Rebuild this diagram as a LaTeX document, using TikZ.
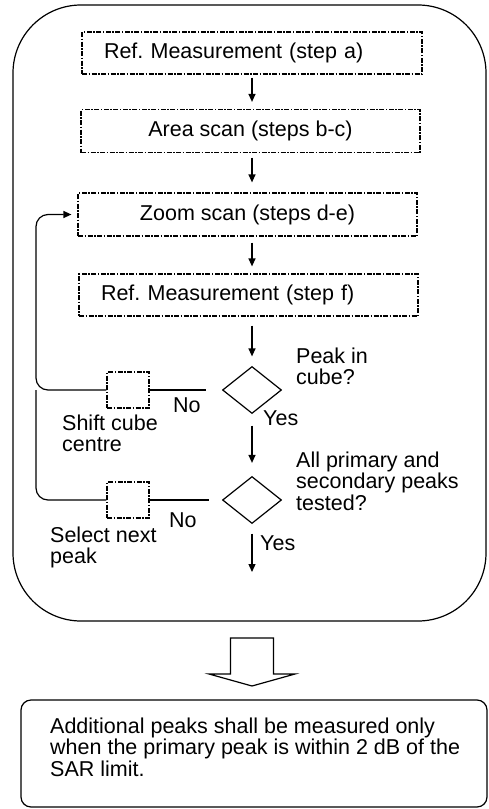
\documentclass[tikz,border=0pt]{standalone}
\usepackage{fontspec}
\setmainfont{Liberation Sans}
\usetikzlibrary{shapes.geometric,arrows.meta,calc}
\newcommand\mtext[1]{\vtop{\halign{##\hfil\cr#1\crcr}}}
\frenchspacing
\begin{document}
\begin{tikzpicture}[x=1pt,y=-1pt,
  font=\fontsize{21.5}{21.5}\selectfont\frenchspacing,
  every node/.style={text=black},
  ln/.style={line width=1.2pt},
  dd/.style={dash pattern=on 5pt off 1.5pt on 1.5pt off 1.5pt},
  stepbox/.style={draw, ln, dd, minimum width=339pt, minimum height=42pt, inner sep=0pt},
  dbox/.style={diamond, draw, ln, minimum width=59pt, minimum height=47pt, inner sep=0pt, aspect=1.25},
  smallbox/.style={draw, ln, dd, minimum width=42pt, minimum height=36pt, inner sep=0pt},
  arr/.style={line width=1.3pt, -{Triangle[length=8pt,width=7pt]}},
  lbl/.style={anchor=base west, inner sep=0pt}]
\useasboundingbox (0,0) rectangle (489,809);

% outer frame
\node[draw, ln, rounded corners=68pt, minimum width=473pt, minimum height=616pt, inner sep=0pt] (frame) at (249.5,313) {};

% steps
\node[stepbox, text width=296pt, inner xsep=22pt, align=left] (b1) at (252,53) {Ref. Measurement (step a)};
\node[stepbox, minimum height=43pt] (b2) at (250.5,131) {Area scan (steps b-c)};
\node[stepbox, minimum height=43pt] (b3) at (247.5,214.5) {Zoom scan (steps d-e)};
\node[stepbox, text width=295pt, inner xsep=22pt, align=left] (b4) at (248.5,295) {Ref. Measurement (step f)};

% decisions
\node[dbox] (d1) at (252,390) {};
\node[dbox] (d2) at (252,500) {};
\node[smallbox] (s1) at (128,390) {};
\node[smallbox] (s2) at (128,500) {};
\coordinate (lx) at (36,0);
\coordinate (endp) at (252,572);

% vertical arrows
\draw[arr, shorten <=3pt, shorten >=7pt] (b1.south -| d1.north) -- (b2.north -| d1.north);
\draw[arr, shorten <=4.5pt, shorten >=10pt] (b2.south -| d1.north) -- (b3.north -| d1.north);
\draw[arr, shorten <=6pt, shorten >=7pt] (b3.south -| d1.north) -- (b4.north -| d1.north);
\draw[arr, shorten <=9pt, shorten >=9.5pt] (b4.south -| d1.north) -- (d1.north);
\draw[arr, shorten <=11.5pt, shorten >=13pt] (d1.south) -- (d2.north);
\draw[arr, shorten <=9.5pt] (d2.south) -- (endp);

% loops
\draw[ln, shorten <=16pt] (d1.west) -- (s1.east);
\draw[arr, line width=1.2pt, rounded corners=12pt, shorten >=6pt] (s1.west) -| (lx |- b3.west) -- (b3.west);
\draw[ln, shorten <=13pt] (d2.west) -- (s2.east);
\draw[ln, rounded corners=12pt] (s2.west) -| (lx |- s1.west);

% labels
\node[lbl] (no1) at (173,412) {No};
\node[lbl] (yes1) at (263,425) {Yes};
\node[lbl] (q1) at (296,363) {\mtext{Peak in\cr cube?}};
\node[lbl] (t1) at (62,430) {\mtext{Shift cube\cr centre}};
\node[lbl] (no2) at (169,527) {No};
\node[lbl] (q2) at (296,467) {\mtext{All primary and\cr secondary peaks\cr tested?}};
\node[lbl] (yes2) at (260,550) {Yes};
\node[lbl] (t2) at (50,542) {\mtext{Select next\cr peak}};

% block arrow
\coordinate (ba) at (252,638);
\draw[ln, line join=miter] (ba) ++(-21.5,0) -- ++(0,36) -- ++(-21.5,0) -- ++(43,12) -- ++(43,-12) -- ++(-21.5,0) -- ++(0,-36) -- cycle;

% note
\node[draw, ln, rounded corners=10pt, minimum width=466pt, minimum height=107pt, inner sep=0pt] (note) at (254,753.5) {};
\node[lbl] (nt) at (50,733) {\mtext{Additional peaks shall be measured only\cr when the primary peak is within 2 dB of the\cr SAR limit.}};
\end{tikzpicture}
\end{document}
